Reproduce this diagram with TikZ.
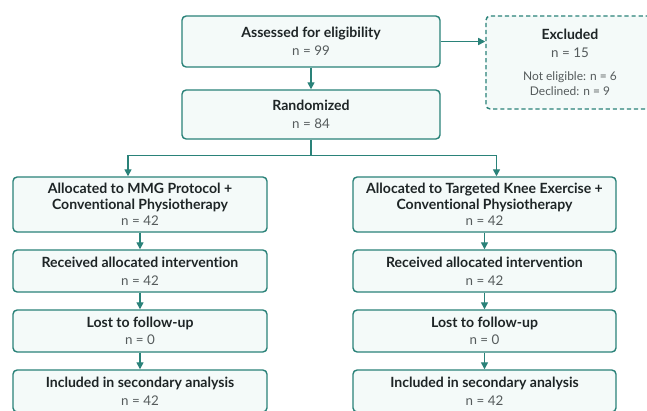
\documentclass[tikz,border=0pt]{standalone}
\usepackage{fontspec}
\setmainfont{Lato}[Ligatures=NoCommon]
\usepackage{tikz}
\usetikzlibrary{positioning,calc,arrows.meta}
\definecolor{boxline}{HTML}{2A8279}
\definecolor{boxfill}{HTML}{F4FAF9}
\definecolor{inktext}{HTML}{1E2526}
\definecolor{ngray}{HTML}{555B5C}
\newcommand{\nval}[1]{{\fontsize{9.5}{11}\selectfont\color{ngray}#1}}

\begin{document}
\begin{tikzpicture}[x=0.025cm, y=-0.025cm, font=\fontsize{10}{11}\selectfont, color=inktext,
  flowbox/.style={draw=boxline, line width=1pt, fill=boxfill, rounded corners=3pt, align=center, inner sep=2pt, minimum height=1.05cm},
  exclbox/.style={flowbox, dashed, dash pattern=on 3pt off 2pt},
  flow/.style={draw=boxline, line width=1pt, -{Triangle[length=5pt,width=5pt]}}]
\useasboundingbox (0,0) rectangle (647,410);
\fill[white] (0,0) rectangle (647,410);

% enrolment
\node[flowbox, minimum width=6.45cm, minimum height=1.275cm] (assess) at (311,41.5)
  {\textbf{Assessed for eligibility}\\[2pt]\nval{n = 99}};
\node[exclbox, minimum width=4.2cm, minimum height=2.325cm] (excl) at (570,62.5)
  {\textbf{Excluded}\\[2pt]\nval{n = 15}\\[5pt]
   {\fontsize{8.5}{11.5}\selectfont\color{ngray}Not eligible: n = 6}\\
   {\fontsize{8.5}{11.5}\selectfont\color{ngray}Declined: n = 9}};
\node[flowbox, minimum width=6.45cm, minimum height=1.225cm] (rand) at (311,114.5)
  {\textbf{Randomized}\\[2pt]\nval{n = 84}};

% MMG arm
\node[flowbox, minimum width=6.35cm, minimum height=1.375cm] (mmgA) at (140,204.5)
  {\textbf{Allocated to MMG Protocol +}\\\textbf{Conventional Physiotherapy}\\[1pt]\nval{n = 42}};
\node[flowbox, minimum width=6.35cm] (mmgB) at (140,271)
  {\textbf{Received allocated intervention}\\[1.5pt]\nval{n = 42}};
\node[flowbox, minimum width=6.35cm] (mmgC) at (140,331)
  {\textbf{Lost to follow-up}\\[1.5pt]\nval{n = 0}};
\node[flowbox, minimum width=6.35cm] (mmgD) at (140,391)
  {\textbf{Included in secondary analysis}\\[1.5pt]\nval{n = 42}};

% knee exercise arm
\node[flowbox, minimum width=6.575cm, minimum height=1.375cm] (tkeA) at (484.5,204.5)
  {\textbf{Allocated to Targeted Knee Exercise +}\\\textbf{Conventional Physiotherapy}\\[1pt]\nval{n = 42}};
\node[flowbox, minimum width=6.575cm] (tkeB) at (484.5,271)
  {\textbf{Received allocated intervention}\\[1.5pt]\nval{n = 42}};
\node[flowbox, minimum width=6.575cm] (tkeC) at (484.5,331)
  {\textbf{Lost to follow-up}\\[1.5pt]\nval{n = 0}};
\node[flowbox, minimum width=6.575cm] (tkeD) at (484.5,391)
  {\textbf{Included in secondary analysis}\\[1.5pt]\nval{n = 42}};

% connectors
\draw[flow] (assess) -- (rand);
\draw[flow] (assess.east) -- (excl.west |- assess.east);
\coordinate (split) at ($(rand.south)+(0,16)$);
\draw[draw=boxline, line width=1pt] (rand.south) -- (split);
\draw[flow] (split) -| ($(mmgA.north)+(-12,0)$);
\draw[flow] (split) -| ($(tkeA.north)+(12,0)$);
\foreach \arm in {mmg,tke}{
  \draw[flow] (\arm A) -- (\arm B);
  \draw[flow] (\arm B) -- (\arm C);
  \draw[flow] (\arm C) -- (\arm D);
}
\end{tikzpicture}
\end{document}
